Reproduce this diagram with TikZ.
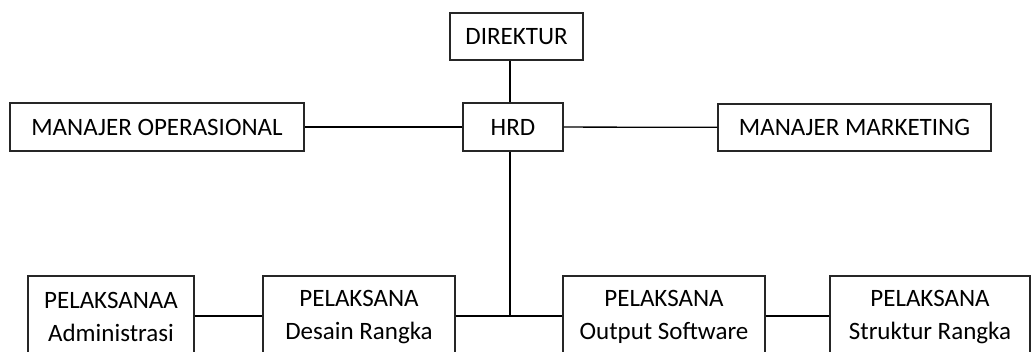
\documentclass[tikz,border=0pt]{standalone}
\usepackage{fontspec}
\setmainfont{Carlito}
\begin{document}
\begin{tikzpicture}[x=1pt, y=-1pt, line width=1.3pt,
	box/.style={draw=black!85, fill=white, inner sep=0pt, align=center,
		font=\fontsize{25}{33}\selectfont}]

		\clip (0, 0) rectangle (1032, 352);
		\fill[white] (0, 0) rectangle (1032, 352);

		% top of the chart
		\node[box, minimum width=133pt, minimum height=47pt] (dir) at (516.5, 36.5) {DIREKTUR};
		\node[box, minimum width=100pt, minimum height=48pt] (hrd) at (513, 127) {HRD};
		\node[box, minimum width=294pt, minimum height=48pt] (mop) at (157, 127) {MANAJER OPERASIONAL};
		\node[box, minimum width=273pt, minimum height=47pt] (mmk) at (854.5, 127.5) {MANAJER MARKETING};

		% bottom row
		\node[box, minimum width=166pt, minimum height=82pt] (adm) at (111, 317) {PELAKSANAA\\Administrasi};
		\node[box, minimum width=192pt, minimum height=82pt] (dsn) at (359, 317) {PELAKSANA\\Desain Rangka};
		\node[box, minimum width=202pt, minimum height=82pt] (out) at (664, 317) {PELAKSANA\\Output Software};
		\node[box, minimum width=200pt, minimum height=82pt] (str) at (930, 317) {PELAKSANA\\Struktur Rangka};

		\coordinate (spine) at (510, 316);

		\draw (dir.south -| spine) -- (hrd.north -| spine);
		\draw (hrd.south -| spine) -- (spine);
		\draw (hrd) -- (mop);
		\draw (hrd) -- (mmk);
		\draw (adm.east |- spine) -- (dsn.west |- spine);
		\draw (dsn.east |- spine) -- (out.west |- spine);
		\draw (out.east |- spine) -- (str.west |- spine);
	\end{tikzpicture}
\end{document}
